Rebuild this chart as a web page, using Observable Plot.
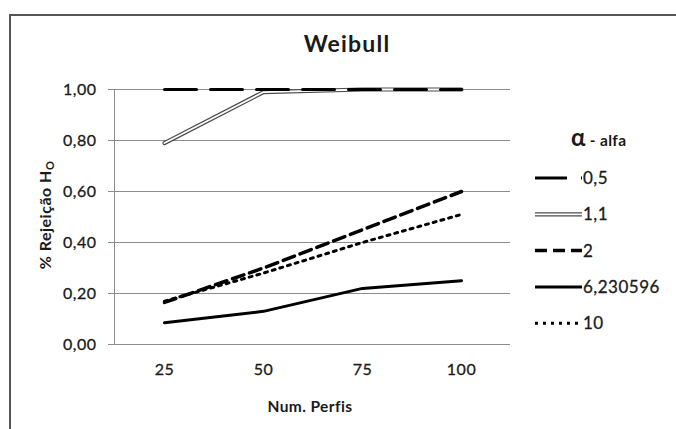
<!DOCTYPE html>
<html>
<head>
<meta charset="utf-8">
<script src="https://cdn.jsdelivr.net/npm/d3@7"></script>
<script src="https://cdn.jsdelivr.net/npm/@observablehq/plot@0.6"></script>
<style>
  body { margin: 0; background: #fff; }
  #chart { position: relative; width: 676px; height: 429px; overflow: hidden;
           font-family: Lato, "Open Sans", sans-serif; color: #1a1a1a; background: #fff; }
  #frame { position: absolute; left: 9px; top: 14px; width: 700px; height: 450px;
           border-top: 2px solid #555; border-left: 2px solid #555; box-sizing: border-box; }
  #plot { position: absolute; left: 0; top: 0; }
  #plot text, #legend text { letter-spacing: 0.5px; stroke: #1a1a1a; stroke-width: 0.3px; }
  .title { position: absolute; left: 197px; width: 300px; top: 29px; text-align: center;
           font-size: 23px; font-weight: bold; letter-spacing: 1.2px; }
  .xtitle { position: absolute; left: 160px; width: 300px; top: 397px; text-align: center;
            font-size: 15.5px; font-weight: bold; letter-spacing: 0.4px; }
  .ytitle { position: absolute; left: 45px; top: 215px; transform: translate(-50%, -50%) rotate(-90deg);
            white-space: nowrap; font-size: 16px; font-weight: bold; letter-spacing: 0.5px; }
  .ytitle sub { font-size: 11px; vertical-align: -3px; }
  .legtitle { position: absolute; left: 571px; top: 122px; font-weight: bold; font-size: 15.5px; white-space: nowrap; letter-spacing: 0.3px; }
  .legtitle .alpha { font-size: 24px; }
  #legend { position: absolute; left: 530px; top: 160px; }
</style>
</head>
<body>
<div id="chart">
  <div id="frame"></div>
  <div id="plot"></div>
  <div class="title">Weibull</div>
  <div class="xtitle">Num. Perfis</div>
  <div class="ytitle">% Rejeição H<sub>O</sub></div>
  <div class="legtitle"><span class="alpha">α</span> - alfa</div>
  <div id="legend"></div>
</div>
<script>
// Number of profiles (x categories)
const perfis = ["25", "50", "75", "100"];
// Weibull shape parameter alpha, one series each
const alfas = ["0,5", "1,1", "2", "6,230596", "10"];
// Rejection rate of H0 for each alpha
const rej05 = [1.00, 1.00, 1.00, 1.00];
const rej11 = [0.79, 0.99, 1.00, 1.00];
const rej2 = [0.165, 0.30, 0.45, 0.60];
const rej623 = [0.085, 0.13, 0.22, 0.25];
const rej10 = [0.17, 0.28, 0.40, 0.51];
// y-axis ticks
const yTicks = [0, 0.2, 0.4, 0.6, 0.8, 1.0];

const series = [rej05, rej11, rej2, rej623, rej10];
const rows = alfas.map((a, k) => perfis.map((p, i) => ({alfa: a, perfil: p, valor: series[k][i]})));

const fmt = v => d3.format(".2f")(v).replace(".", ",");

// line styles per series
const styles = {
  "0,5": {stroke: "#000", strokeWidth: 3, strokeDasharray: "32,14"},
  "2": {stroke: "#000", strokeWidth: 3.5, strokeDasharray: "12,6"},
  "6,230596": {stroke: "#000", strokeWidth: 3},
  "10": {stroke: "#000", strokeWidth: 3, strokeDasharray: "3,5"}
};
const doubleOuter = {stroke: "#4a4a4a", strokeWidth: 4.2};
const doubleInner = {stroke: "#fff", strokeWidth: 1.8};

const line = (k, st) => Plot.line(rows[k], {x: "perfil", y: "valor", ...st, strokeLinejoin: "round"});

const plot = Plot.plot({
  width: 676, height: 429,
  marginLeft: 114, marginRight: 166, marginTop: 89, marginBottom: 85,
  style: {fontFamily: "Lato, 'Open Sans', sans-serif", fontSize: "16px", color: "#1a1a1a", background: "transparent"},
  x: {type: "point", domain: perfis, padding: 0.5},
  y: {domain: [0, 1]},
  marks: [
    Plot.gridY(yTicks, {stroke: "#8c8c8c", strokeOpacity: 1, strokeWidth: 1}),
    Plot.frame({anchor: "left", stroke: "#8c8c8c"}),
    Plot.axisY(yTicks, {tickSize: 6, tickPadding: 12, tickFormat: fmt, stroke: "#8c8c8c", label: null, fontSize: 16}),
    Plot.axisX({tickSize: 0, tickPadding: 19, label: null, fontSize: 16}),
    line(1, doubleOuter),
    line(1, doubleInner),
    line(0, styles["0,5"]),
    line(2, styles["2"]),
    line(3, styles["6,230596"]),
    line(4, styles["10"])
  ]
});
document.getElementById("plot").appendChild(plot);

// legend
const leg = d3.select("#legend").append("svg").attr("width", 146).attr("height", 180)
  .style("font-family", "Lato, 'Open Sans', sans-serif").style("font-size", "17px");
alfas.forEach((a, i) => {
  const y = 18 + i * 36.3;
  const g = leg.append("g");
  const seg = st => g.append("line").attr("x1", 5).attr("x2", 52).attr("y1", y).attr("y2", y)
    .attr("stroke", st.stroke).attr("stroke-width", st.strokeWidth)
    .attr("stroke-dasharray", st.strokeDasharray || null);
  if (a === "1,1") { seg(doubleOuter); seg(doubleInner); }
  else seg(styles[a]);
  g.append("text").attr("x", 53).attr("y", y).attr("dy", "0.35em").attr("fill", "#1a1a1a").text(a);
});
</script>
</body>
</html>
